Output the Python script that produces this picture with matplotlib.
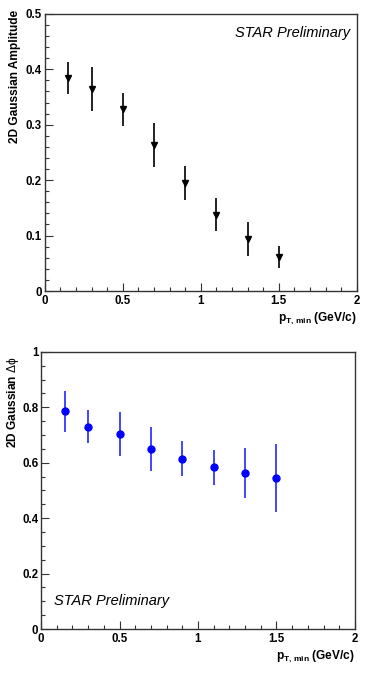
import matplotlib
matplotlib.use('Agg')
import matplotlib.pyplot as plt
from matplotlib.ticker import MultipleLocator

plt.rcParams['font.family'] = ['Liberation Sans', 'DejaVu Sans']
plt.rcParams['mathtext.fontset'] = 'custom'
plt.rcParams['mathtext.rm'] = 'Liberation Sans:bold'
plt.rcParams['mathtext.it'] = 'Liberation Sans:bold'
plt.rcParams['mathtext.bf'] = 'Liberation Sans:bold'
plt.rcParams['mathtext.sf'] = 'Liberation Sans'

# pT,min cut values (GeV/c)
pt_min = [0.15, 0.3, 0.5, 0.7, 0.9, 1.1, 1.3, 1.5]

# top panel: 2D gaussian amplitude
amp = [0.385, 0.365, 0.328, 0.263, 0.195, 0.138, 0.094, 0.062]
amp_err = [0.029, 0.040, 0.030, 0.040, 0.030, 0.030, 0.030, 0.020]

# bottom panel: 2D gaussian delta phi width
dphi = [0.785, 0.730, 0.703, 0.649, 0.615, 0.583, 0.562, 0.544]
dphi_err = [0.075, 0.060, 0.080, 0.080, 0.064, 0.062, 0.091, 0.123]

fig = plt.figure(figsize=(3.8, 6.76), dpi=100)
ax1 = fig.add_axes([0.118, 0.5695, 0.821, 0.41])
ax2 = fig.add_axes([0.108, 0.0695, 0.826, 0.41])


def style(ax, ymax, ymaj, ymin):
    ax.set_xlim(0, 2)
    ax.set_ylim(0, ymax)
    ax.xaxis.set_major_locator(MultipleLocator(0.5))
    ax.xaxis.set_minor_locator(MultipleLocator(0.1))
    ax.yaxis.set_major_locator(MultipleLocator(ymaj))
    ax.yaxis.set_minor_locator(MultipleLocator(ymin))
    ax.xaxis.set_major_formatter(plt.FuncFormatter(lambda v, p: ('%g' % v)))
    ax.yaxis.set_major_formatter(plt.FuncFormatter(lambda v, p: ('%g' % v)))
    ax.tick_params(which='both', direction='in', top=False, right=False,
                   labelsize=8.3, width=0.8, color='#333333')
    ax.tick_params(which='major', length=6)
    ax.tick_params(which='minor', length=3)
    ax.tick_params(axis='x', pad=3)
    ax.tick_params(axis='y', pad=2)
    for lab in ax.get_xticklabels() + ax.get_yticklabels():
        lab.set_fontweight('bold')
    for s in ax.spines.values():
        s.set_linewidth(1.0)
        s.set_color('#333333')
    ax.set_xlabel(r'$p_{T,\,min}$ (GeV/c)', loc='right', fontsize=8.6,
                  fontweight='bold', labelpad=3)


ax1.errorbar(pt_min, amp, yerr=amp_err, fmt='v', color='black', ms=5,
             ecolor='#222222', elinewidth=1.4, capsize=0)
style(ax1, 0.5, 0.1, 0.02)
ax1.set_ylabel('2D Gaussian Amplitude', loc='top', fontsize=8.6,
               fontweight='bold')
ax1.yaxis.set_label_coords(-0.075, 1.014)
ax1.text(0.98, 0.93, 'STAR Preliminary', transform=ax1.transAxes,
         ha='right', va='center', fontsize=10.5, style='italic')

ax2.errorbar(pt_min, dphi, yerr=dphi_err, fmt='o', color='#0000ff', ms=5,
             ecolor='#4444ff', elinewidth=1.4, capsize=0)
style(ax2, 1.0, 0.2, 0.05)
ax2.set_ylabel(r'2D Gaussian $\mathsf{\Delta\phi}$', loc='top', fontsize=8.6,
               fontweight='bold')
ax2.yaxis.set_label_coords(-0.064, 0.982)
ax2.text(0.04, 0.1, 'STAR Preliminary', transform=ax2.transAxes,
         ha='left', va='center', fontsize=10.5, style='italic')

fig.savefig('out.png', dpi=100)
